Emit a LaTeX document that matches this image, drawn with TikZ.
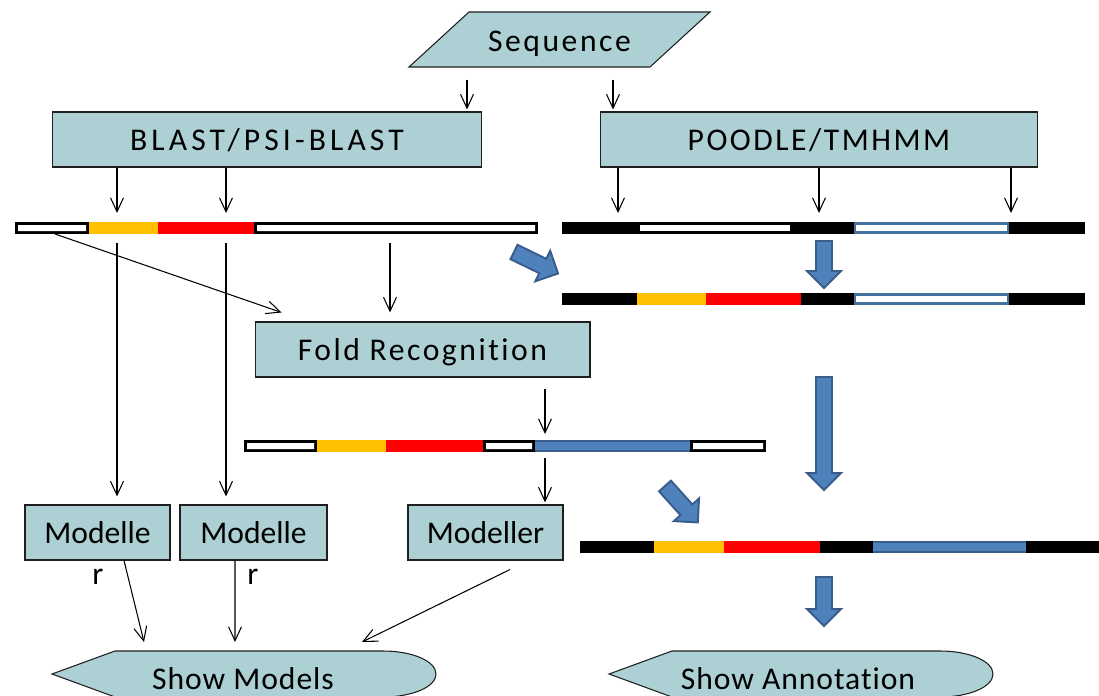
\documentclass[tikz,border=0pt]{standalone}
\usepackage{fontspec}
\setmainfont{Carlito}
\newfontfamily\tightfont[LetterSpace=3, Ligatures=NoCommon]{Carlito}
\newfontfamily\spacedfont[LetterSpace=8, Ligatures=NoCommon]{Carlito}
\newfontfamily\widefont[LetterSpace=13, Ligatures=NoCommon]{Carlito}
\usetikzlibrary{arrows.meta, positioning, calc}

\definecolor{ink}{HTML}{000000}
\definecolor{boxfill}{HTML}{ACD0D4}
\definecolor{boxline}{HTML}{1F1F1F}
\definecolor{gold}{HTML}{FFC000}
\definecolor{hot}{HTML}{FF0000}
\definecolor{steel}{HTML}{4F81BD}
\definecolor{steeldark}{HTML}{385D8A}
\definecolor{bluerim}{HTML}{41719C}

\tikzset{
  font=\fontsize{18}{21}\selectfont,
  >={Straight Barb[length=2.8mm, width=2.6mm]},
  %
  proc/.style={draw=boxline, line width=0.6pt, fill=boxfill, inner sep=0pt,
               minimum height=1.1cm, text=ink, text depth=0pt},
  tight/.style={font=\tightfont\fontsize{18}{21}\selectfont, text depth=0pt},
  spaced/.style={font=\spacedfont\fontsize{18}{21}\selectfont, text depth=0pt},
  wide/.style={font=\widefont\fontsize{18}{21}\selectfont, text depth=0pt},
  flowshape/.style={draw=boxline, line width=0.6pt, fill=boxfill},
  %
  conn/.style={draw=ink, line width=0.6pt, ->},
  blockarrow/.style={draw=steeldark, fill=steel, line width=1.1pt},
}

% fat arrow: tail point, angle, length (px)
\newcommand{\fatarrow}[3]{%
  \draw[blockarrow, shift={#1}, rotate=#2]
    (0,-8) -- ({#3-17},-8) -- ({#3-17},-17) -- (#3,0)
    -- ({#3-17},17) -- ({#3-17},8) -- (0,8) -- cycle;}

\begin{document}
\begin{tikzpicture}[x=0.02cm, y=-0.02cm]
  \useasboundingbox (0,0) rectangle (1099,696);

  % input
  \filldraw[flowshape] (469,12) -- (710,12) -- (650,67) -- (409,67) -- cycle;
  \node[spaced] (seq) at (559.5,41) {Sequence};

  % the two searches
  \node[proc, wide, minimum width=8.6cm]  (blast)  at (267,139.5) {BLAST/PSI-BLAST};
  \node[proc, spaced, minimum width=8.76cm] (poodle) at (819,139.5) {POODLE/TMHMM};

  \coordinate (sqa) at (467,80);
  \coordinate (sqb) at (613,80);
  \draw[conn, shorten >=0.04cm] (sqa) -- (sqa |- blast.north);
  \draw[conn, shorten >=0.04cm] (sqb) -- (sqb |- poodle.north);

  % alignment bar under BLAST
  \fill (15,222) rectangle (538,234);
  \fill[white] (18,225) rectangle (86,231) (257,225) rectangle (535,231);
  \fill[gold] (89,222) rectangle (158,234);
  \fill[hot] (158,222) rectangle (254,234);

  % topology bar under POODLE
  \fill (562,222) rectangle (1085,234);
  \fill[white] (640,225) rectangle (790,231);
  \fill[bluerim] (854,222) rectangle (1009,234);
  \fill[white] (856,225) rectangle (1007,231);

  % merged bar
  \fill (562,293) rectangle (1085,305);
  \fill[gold] (637,293) rectangle (706,305);
  \fill[hot] (706,293) rectangle (801,305);
  \fill[bluerim] (854,293) rectangle (1009,305);
  \fill[white] (856,296) rectangle (1007,302);

  \foreach \n/\x in {a/117, b/226} {
    \coordinate (t1\n) at (\x,213);
    \draw[conn] (t1\n |- blast.south) -- (t1\n);
  }
  \foreach \n/\x in {a/618, b/819, c/1011} {
    \coordinate (t2\n) at (\x,213);
    \draw[conn] (t2\n |- poodle.south) -- (t2\n);
  }

  % fold recognition
  \node[proc, spaced, minimum width=6.7cm] (fold) at (422.5,349.5) {Fold Recognition};

  \coordinate (b1a) at (117,243);
  \coordinate (b1b) at (226,243);
  \coordinate (b1c) at (390,243);
  \coordinate (b1d) at (55,234);
  \draw[conn, shorten >=0.18cm] (b1c) -- (b1c |- fold.north);
  \draw[conn] (b1d) -- ([shift={(27,-9)}]fold.north west);

  % bar after fold recognition
  \fill (244,440) rectangle (766,452);
  \fill[white] (247,443) rectangle (314,449) (486,443) rectangle (532,449)
               (693,443) rectangle (763,449);
  \fill[gold] (317,440) rectangle (386,452);
  \fill[hot] (386,440) rectangle (483,452);
  \fill[steeldark] (535,440) rectangle (690,452);
  \fill[steel] (535,442) rectangle (690,450);

  \coordinate (t4) at (545,434);
  \draw[conn, shorten <=0.22cm] (t4 |- fold.south) -- (t4);

  % modelling
  \node[proc, minimum width=2.9cm]  (mod1) at (97.5,532.5)  {Modelle};
  \node[proc, minimum width=2.94cm] (mod2) at (253.5,532.5) {Modelle};
  \node[proc, minimum width=3.1cm]  (mod3) at (485.5,532.5) {Modeller};
  \node (r1) at (98,577)  {r};
  \node (r2) at (253,577) {r};

  \coordinate (b4) at (545,458);
  \draw[conn, shorten >=0.16cm] (b1a) -- (b1a |- mod1.north);
  \draw[conn, shorten >=0.16cm] (b1b) -- (b1b |- mod2.north);
  \draw[conn, shorten >=0.04cm] (b4) -- (b4 |- mod3.north);

  % outputs
  \filldraw[flowshape] (52,674) -- (115,651) -- (383,651)
    .. controls (412,651) and (436,661) .. (436,674)
    .. controls (436,687) and (412,697) .. (383,697) -- (115,697) -- cycle;
  \node[tight] (showmod) at (243,679) {Show Models};

  \filldraw[flowshape] (609,674) -- (672,651) -- (940,651)
    .. controls (969,651) and (993,661) .. (993,674)
    .. controls (993,687) and (969,697) .. (940,697) -- (672,697) -- cycle;
  \node[tight] (showann) at (798,679) {Show Annotation};

  \coordinate (sm1) at (144,642);
  \coordinate (sm2) at (235,642);
  \coordinate (sm3) at (362,642);
  \draw[conn] ([xshift=0.53cm]mod1.south) -- (sm1);
  \draw[conn] ([xshift=-0.37cm]mod2.south) -- (sm2);
  \draw[conn] ([shift={(24.5,9)}]mod3.south) -- (sm3);

  % final bar
  \fill (580,541) rectangle (1099,553);
  \fill[gold] (654,541) rectangle (724,553);
  \fill[hot] (724,541) rectangle (820,553);
  \fill[steeldark] (873,541) rectangle (1026,553);
  \fill[steel] (873,543) rectangle (1026,551);

  % block arrows
  \fatarrow{(514,252)}{-26}{49}
  \fatarrow{(824,241)}{-90}{47}
  \fatarrow{(824,377)}{-90}{113}
  \fatarrow{(665,486)}{-48}{49}
  \fatarrow{(824,577)}{-90}{49}

\end{tikzpicture}
\end{document}
